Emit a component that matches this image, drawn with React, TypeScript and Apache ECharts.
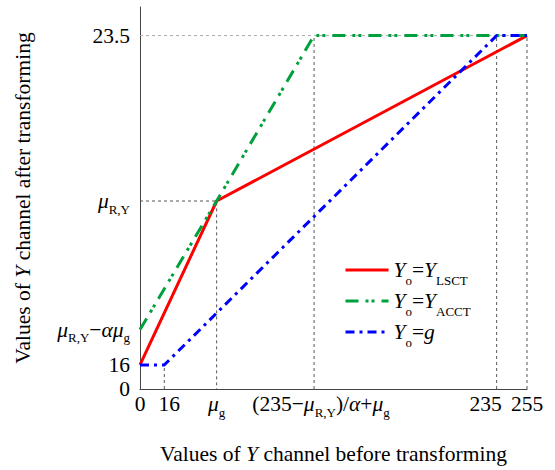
import React, { useEffect, useRef } from 'react';
import * as echarts from 'echarts';

// Key schematic values (in grey-level units, 0..255)
const MU_G = 50.5;          // μg
const MU_RY = 125;          // μR,Y
const ACCT_START = 39.5;    // μR,Y − αμg
const X_SAT = 114.7;        // (235 − μR,Y)/α + μg

// Series
const lsctX = [0, MU_G, 255];
const lsctY = [16, MU_RY, 235];
const acctX = [0, MU_G, X_SAT, 255];
const acctY = [ACCT_START, MU_RY, 235, 235];
const gX = [0, 16, 235, 255];
const gY = [16, 16, 235, 235];

// Ticks
const xTickValues = [0, 16, MU_G, X_SAT, 235, 255];
const xTickLabels = [
  '{n|0}',
  '{p16|16}',
  '{i|μ}{s|g}',
  '{pl|(235}{n|−}{i|μ}{s|R,Y}{n|)/}{i|α}{n|+}{i|μ}{s|g}',
  '{pr|235}',
  '{n|255}',
];
const yTickValues = [0, 16, ACCT_START, MU_RY, 235];
const yTickLabels = [
  '{n|0}',
  '{n|16}',
  '{i|μ}{s|R,Y}{n|−}{i|αμ}{s|g}',
  '{i|μ}{s|R,Y}',
  '{n|23.5}',
];

const seriesNames = ['LSCT', 'ACCT', 'g'];
const legendLabels = [
  '{i|Y}{s|o}{n|=}{i|Y}{s|LSCT}',
  '{i|Y}{s|o}{n|=}{i|Y}{s|ACCT}',
  '{i|Y}{s|o}{n|=}{i|g}',
];
const xName = '{n|Values of }{i|Y}{n| channel before transforming}';
const yName = '{n|Values of }{i|Y}{n| channel after transforming}';

const FONT = "'Liberation Serif', 'Times New Roman', serif";
const FS = 21.5;

const zip = (xs: number[], ys: number[]) => xs.map((x, i) => [x, ys[i]]);

const baseRich = (subPad: number) => {
  const n = { fontFamily: FONT, fontSize: FS, color: '#000', lineHeight: 30 };
  return {
    n,
    i: { ...n, fontStyle: 'italic' },
    s: { fontFamily: FONT, fontSize: 13, color: '#000', padding: [subPad, 0, 0, 0] },
    p16: { ...n, padding: [0, 0, 0, 10] },
    pr: { ...n, padding: [0, 22, 0, 0] },
    pl: { ...n, padding: [0, 0, 0, 14] },
  };
};

const labelFor = (vals: number[], labels: string[]) => (v: number) => {
  const idx = vals.findIndex((t) => Math.abs(t - v) < 1e-6);
  return idx >= 0 ? labels[idx] : '';
};

const refLine = (data: number[][], color = '#555') => ({
  type: 'line',
  data,
  symbol: 'none',
  silent: true,
  z: 1,
  lineStyle: { color, width: 1, type: [3, 3] },
});

const axisBase = {
  type: 'value',
  min: 0,
  max: 255,
  axisTick: { show: false },
  splitLine: { show: false },
};

export default function App() {
  const ref = useRef<HTMLDivElement>(null);
  useEffect(() => {
    if (!ref.current) return;
    const chart = echarts.init(ref.current, null, { renderer: 'svg' });
    const fmt = labelFor(xTickValues, xTickLabels);
    chart.setOption({
      animation: false,
      backgroundColor: '#fff',
      grid: { left: 140, right: 28, top: 7, bottom: 77 },
      xAxis: [
        {
          ...axisBase,
          position: 'bottom',
          axisLine: { show: true, lineStyle: { color: '#444', width: 1 } },
          axisLabel: {
            customValues: xTickValues.slice(0, -1),
            formatter: fmt,
            rich: baseRich(16),
            margin: 0,
            showMinLabel: true,
            showMaxLabel: true,
          },
          name: xName,
          nameLocation: 'middle',
          nameGap: 50,
          nameTextStyle: { rich: baseRich(16), fontFamily: FONT, fontSize: FS, color: '#000' },
        },
        {
          ...axisBase,
          position: 'bottom',
          offset: 0,
          axisLine: { show: false },
          axisLabel: {
            customValues: xTickValues.slice(-1),
            formatter: fmt,
            rich: baseRich(16),
            margin: 0,
            showMinLabel: true,
            showMaxLabel: true,
          },
        },
      ],
      yAxis: {
        ...axisBase,
        max: 254,
        axisLine: { show: true, lineStyle: { color: '#444', width: 1 } },
        axisLabel: {
          customValues: yTickValues,
          formatter: labelFor(yTickValues, yTickLabels),
          rich: baseRich(16),
          margin: 10,
          showMinLabel: true,
          showMaxLabel: true,
        },
        name: yName,
        nameLocation: 'middle',
        nameGap: 102,
        nameTextStyle: { rich: baseRich(16), fontFamily: FONT, fontSize: FS, color: '#000' },
      },
      legend: {
        data: seriesNames,
        orient: 'vertical',
        left: 339,
        top: 254,
        itemWidth: 43,
        itemHeight: 14,
        itemGap: 3,
        lineStyle: { width: 3 },
        itemStyle: { opacity: 0 },
        formatter: (name: string) => legendLabels[seriesNames.indexOf(name)],
        textStyle: { rich: baseRich(21), fontFamily: FONT, fontSize: FS, color: '#000' },
        selectedMode: false,
      },
      series: [
        refLine([[0, 235], [255, 235]], '#aaa'),
        refLine([[0, MU_RY], [MU_G, MU_RY], [MU_G, 0]]),
        refLine([[16, 0], [16, 16]]),
        refLine([[X_SAT, 0], [X_SAT, 235]]),
        refLine([[235, 0], [235, 235]]),
        refLine([[255, 0], [255, 235]]),
        {
          name: 'LSCT',
          type: 'line',
          data: zip(lsctX, lsctY),
          symbol: 'none',
          z: 3,
          lineStyle: { color: '#ff0000', width: 3 },
          itemStyle: { color: '#ff0000' },
        },
        {
          name: 'ACCT',
          type: 'line',
          data: zip(acctX, acctY),
          symbol: 'none',
          z: 4,
          lineStyle: { color: '#00a03c', width: 3, type: [13, 7, 3, 3, 3, 7] },
          itemStyle: { color: '#00a03c' },
        },
        {
          name: 'g',
          type: 'line',
          data: zip(gX, gY),
          symbol: 'none',
          z: 5,
          lineStyle: { color: '#0000ff', width: 3, type: [9, 5, 3, 5] },
          itemStyle: { color: '#0000ff' },
        },
      ],
    });
    return () => chart.dispose();
  }, []);
  return <div ref={ref} style={{ width: 555, height: 470, position: 'absolute', left: 0, top: 0 }} />;
}
